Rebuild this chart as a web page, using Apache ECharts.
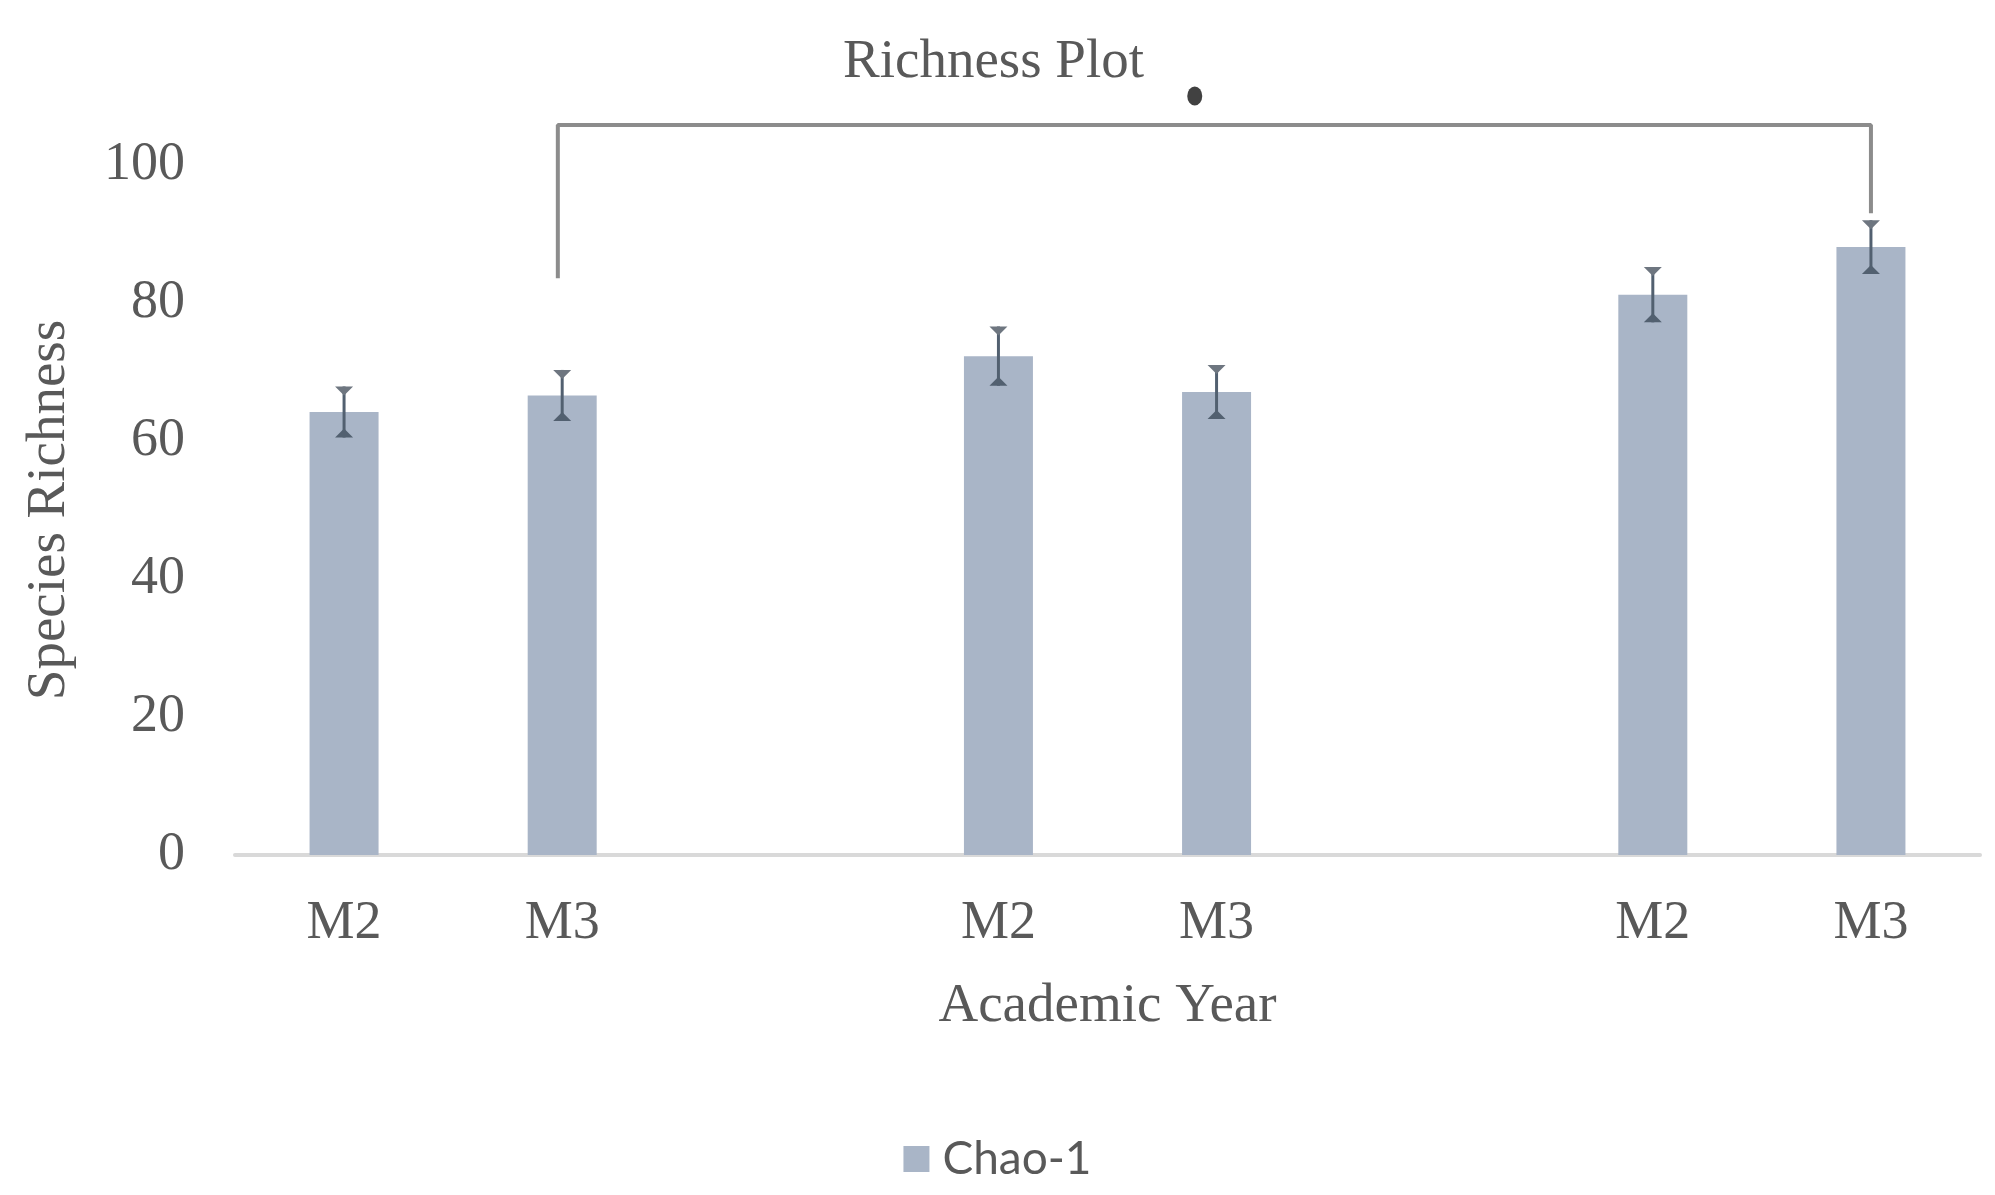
<!DOCTYPE html>
<html>
<head>
	<meta charset="utf-8" />
	<title>Richness Plot</title>
	<script src="https://cdn.jsdelivr.net/npm/echarts@6/dist/echarts.min.js"></script>
	<style>
		html, body { margin: 0; padding: 0; background: #fff; }
		#chart { width: 1995px; height: 1195px; }
	</style>
</head>
<body>
	<div id="chart"></div>
<script type="text/javascript">
	// three year groups, blank category between them
	var categories = ['M2', 'M3', '', 'M2', 'M3', '', 'M2', 'M3'];
	var chao1 = [64.2, 66.6, null, 72.3, 67.1, null, 81.2, 88.1];
	var chao1Err = [3.7, 3.7, null, 4.3, 3.9, null, 4.0, 3.9];
	var yTicks = [0, 20, 40, 60, 80, 100];

	// significance bracket (category index, value) and its marker
	var bracket = [[0.98, 83.6], [0.98, 105.8], [7, 105.8], [7, 93]];
	var sigMark = [[3.9, 110]];

	var serif = '"Liberation Serif", "DejaVu Serif", serif';
	var textColor = '#595959';

	var errData = [];
	for (var i = 0; i < chao1.length; i++) {
		if (chao1[i] != null) {
			errData.push([i, chao1[i] - chao1Err[i], chao1[i] + chao1Err[i]]);
		}
	}

	var myChart = echarts.init(document.getElementById('chart'));
	var option = {
		animation: false,
		title: {
			text: 'Richness Plot',
			left: 838,
			top: 30,
			textStyle: {
				fontFamily: serif,
				fontWeight: 'normal',
				fontSize: 55,
				color: textColor
			}
		},
		legend: {
			data: ['Chao-1'],
			bottom: 8,
			left: 'center',
			icon: 'rect',
			itemWidth: 26,
			itemHeight: 26,
			textStyle: {
				fontFamily: 'Lato, "Liberation Sans", sans-serif',
				fontSize: 46,
				color: textColor,
				padding: [0, 0, 0, 8]
			}
		},
		grid: {
			left: 235,
			right: 15,
			top: 165,
			bottom: 340
		},
		xAxis: [{
			type: 'category',
			data: categories,
			axisLine: { lineStyle: { color: '#d9d9d9', width: 4 } },
			axisTick: { show: false },
			axisLabel: {
				margin: 42,
				fontFamily: serif,
				fontSize: 54,
				color: textColor
			},
			name: 'Academic Year',
			nameLocation: 'middle',
			nameGap: 124,
			nameTextStyle: {
				fontFamily: serif,
				fontSize: 55,
				color: textColor
			}
		}, {
			type: 'value',
			min: -0.5,
			max: 7.5,
			show: false
		}],
		yAxis: {
			type: 'value',
			min: 0,
			max: 100,
			interval: 20,
			axisLine: { show: false },
			axisTick: { show: false },
			splitLine: { show: false },
			axisLabel: {
				margin: 50,
				fontFamily: serif,
				fontSize: 54,
				color: textColor,
				customValues: yTicks
			},
			name: 'Species Richness',
			nameLocation: 'middle',
			nameGap: 158,
			nameTextStyle: {
				fontFamily: serif,
				fontSize: 55,
				color: textColor
			}
		},
		series: [{
			name: 'Chao-1',
			type: 'bar',
			barWidth: 69,
			data: chao1.map(function(v) { return v == null ? '-' : v; }),
			itemStyle: { color: '#a9b5c7' }
		}, {
			name: 'err',
			type: 'custom',
			data: errData,
			z: 5,
			renderItem: function(params, api) {
				var x = api.value(0);
				var lo = api.coord([x, api.value(1)]);
				var hi = api.coord([x, api.value(2)]);
				var c = '#526070';
				var w = 9, h = 9;
				return {
					type: 'group',
					children: [{
						type: 'line',
						shape: { x1: hi[0], y1: hi[1], x2: lo[0], y2: lo[1] },
						style: { stroke: c, lineWidth: 3 }
					}, {
						type: 'polygon',
						shape: { points: [[hi[0] - w, hi[1]], [hi[0] + w, hi[1]], [hi[0], hi[1] + h]] },
						style: { fill: '#6e7680' }
					}, {
						type: 'polygon',
						shape: { points: [[lo[0] - w, lo[1]], [lo[0] + w, lo[1]], [lo[0], lo[1] - h]] },
						style: { fill: c }
					}]
				};
			}
		}, {
			name: 'bracket',
			type: 'line',
			xAxisIndex: 1,
			data: bracket,
			clip: false,
			symbol: 'none',
			silent: true,
			lineStyle: { color: '#8c8c8c', width: 4 }
		}, {
			name: 'sig',
			type: 'scatter',
			xAxisIndex: 1,
			data: sigMark,
			clip: false,
			symbol: 'circle',
			symbolSize: [15, 19],
			silent: true,
			itemStyle: { color: '#111' }
		}]
	};
	myChart.setOption(option);
</script>
</body>
</html>
